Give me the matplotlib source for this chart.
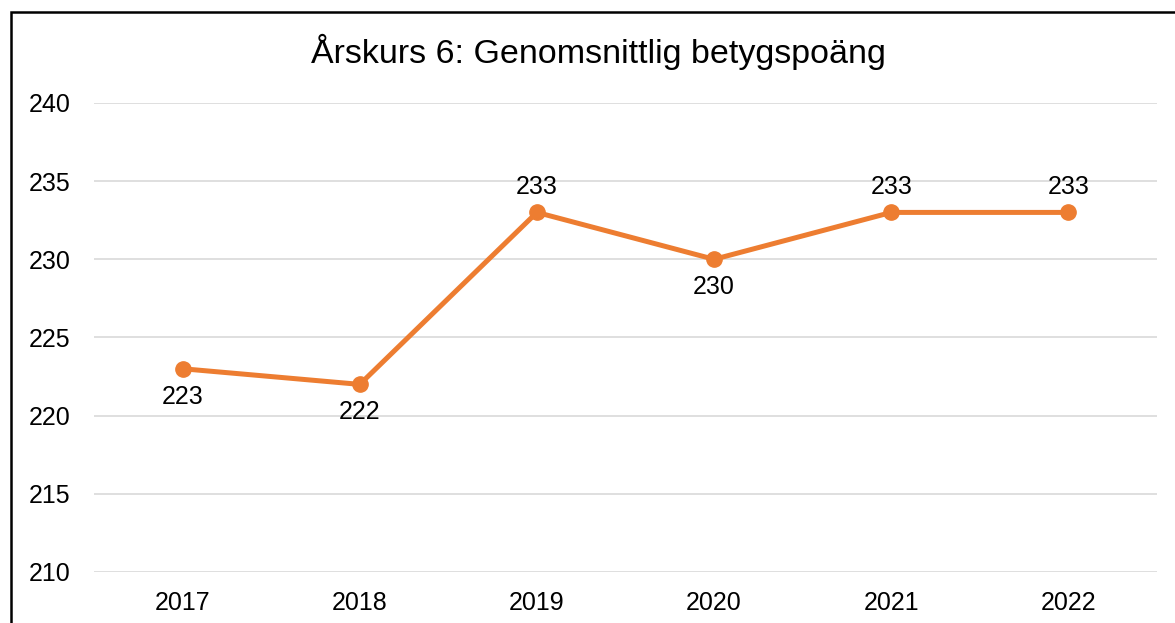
import matplotlib.pyplot as plt
from matplotlib.patches import Rectangle

plt.rcParams['font.family'] = ['Liberation Sans', 'DejaVu Sans']

years = ['2017', '2018', '2019', '2020', '2021', '2022']
scores = [223, 222, 233, 230, 233, 233]
label_below = [True, True, False, True, False, False]

orange = '#ED7D31'

fig = plt.figure(figsize=(11.75, 6.23), dpi=100)
ax = fig.add_axes([0.080, 0.0819, 0.9047, 0.7528])

x = list(range(len(years)))
ax.plot(x, scores, color=orange, linewidth=3.6, marker='o', markersize=11,
        solid_capstyle='round', zorder=3)

for xi, v, below in zip(x, scores, label_below):
    off = -20 if below else 18
    ax.annotate(str(v), (xi, v), xytext=(0, off), textcoords='offset points',
                ha='center', va='center', fontsize=18)

ax.set_xlim(-0.5, len(years) - 0.5)
ax.set_ylim(210, 240)
ax.set_yticks(range(210, 241, 5))
ax.set_xticks(x)
ax.set_xticklabels(years)
ax.tick_params(axis='both', length=0, labelsize=18)
ax.tick_params(axis='x', pad=14)
ax.tick_params(axis='y', pad=17)
ax.grid(axis='y', color='#D9D9D9', linewidth=1.2)
ax.set_axisbelow(True)
for s in ax.spines.values():
    s.set_visible(False)

fig.text(0.509, 0.917, 'Årskurs 6: Genomsnittlig betygspoäng', ha='center',
         va='center', fontsize=24.5)

fig.patches.append(Rectangle((11 / 1175, -0.1), 1.2, 1 - 12 / 623 + 0.1,
                             transform=fig.transFigure, fill=False,
                             edgecolor='black', linewidth=1.8))

fig.savefig('out.png', dpi=100)
